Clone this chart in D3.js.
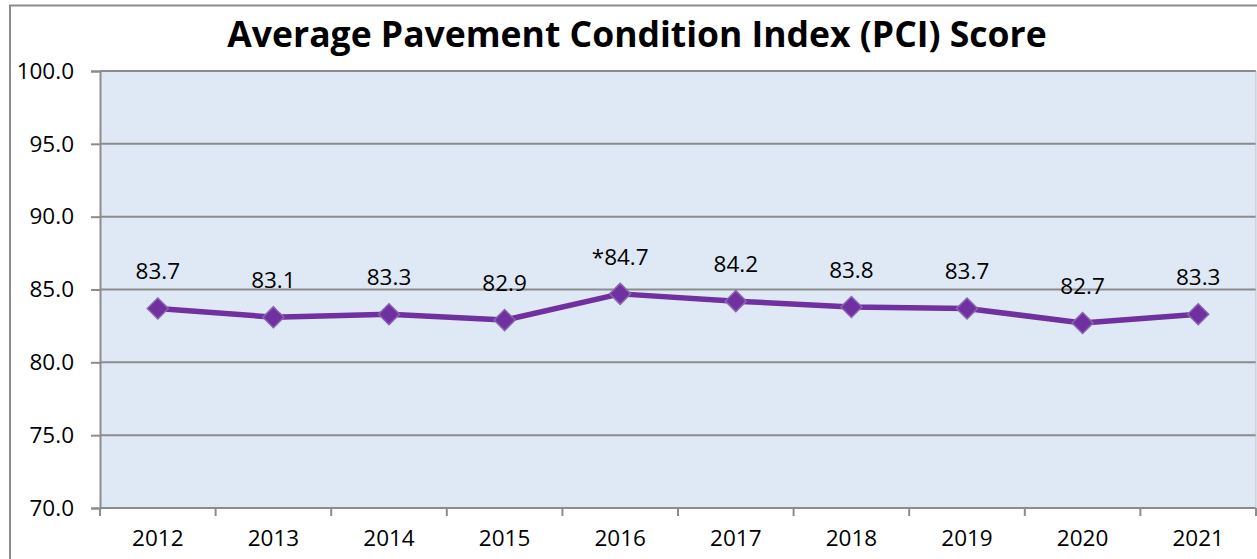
<!DOCTYPE html>
<html>
<head>
<meta charset="utf-8">
<script src="https://cdn.jsdelivr.net/npm/d3@7"></script>
<style>
  html, body { margin: 0; padding: 0; background: #fff; }
  svg { display: block; }
</style>
</head>
<body>
<svg id="chart" width="1257" height="559"></svg>
<script>
const years = ["2012","2013","2014","2015","2016","2017","2018","2019","2020","2021"];
const pci = [83.7, 83.1, 83.3, 82.9, 84.7, 84.2, 83.8, 83.7, 82.7, 83.3];
const pointLabels = ["83.7","83.1","83.3","82.9","*84.7","84.2","83.8","83.7","82.7","83.3"];
const yTicks = [70, 75, 80, 85, 90, 95, 100];
const titleText = "Average Pavement Condition Index (PCI) Score";

const svg = d3.select("#chart");
const m = { left: 100, right: 1256, top: 71, bottom: 508 };
const labelFont = "'Open Sans', sans-serif";
const labelSize = 22.5;

// outer chart border
svg.append("rect")
  .attr("x", 10).attr("y", 5.5)
  .attr("width", 1262).attr("height", 570)
  .attr("fill", "#fff").attr("stroke", "#8c8c8c").attr("stroke-width", 2);

// title
svg.append("text")
  .attr("x", 637).attr("y", 47)
  .attr("text-anchor", "middle")
  .attr("font-family", "'Open Sans', sans-serif")
  .attr("font-weight", "bold")
  .attr("font-size", 35.5)
  .attr("fill", "#000")
  .text(titleText);

const x = d3.scaleBand().domain(years).range([m.left, m.right]).padding(0);
const y = d3.scaleLinear().domain([70, 100]).range([m.bottom, m.top]);

// plot background
svg.append("rect")
  .attr("x", m.left).attr("y", m.top)
  .attr("width", m.right - m.left).attr("height", m.bottom - m.top)
  .attr("fill", "#dfe9f5");

// gridlines
svg.append("g").selectAll("line").data(yTicks).join("line")
  .attr("x1", m.left).attr("x2", m.right)
  .attr("y1", d => y(d)).attr("y2", d => y(d))
  .attr("stroke", "#8c8c8c").attr("stroke-width", 2);

// right edge of plot area
svg.append("line")
  .attr("x1", m.right).attr("x2", m.right)
  .attr("y1", m.top).attr("y2", m.bottom)
  .attr("stroke", "#b8bec8").attr("stroke-width", 1);

// Y axis
const yAxis = d3.axisLeft(y).tickValues(yTicks).tickFormat(d3.format(".1f")).tickSize(9).tickPadding(17);
const gy = svg.append("g").attr("transform", `translate(${m.left},0)`).call(yAxis);
gy.select(".domain").attr("stroke", "#8c8c8c").attr("stroke-width", 2);
gy.selectAll(".tick line").attr("stroke", "#8c8c8c").attr("stroke-width", 2);
gy.selectAll(".tick text").attr("font-family", labelFont).attr("font-size", labelSize).attr("fill", "#000");

// X axis: ticks at category boundaries
const xAxis = d3.axisBottom(x).tickSize(0).tickPadding(22);
const gx = svg.append("g").attr("transform", `translate(0,${m.bottom})`).call(xAxis);
gx.select(".domain").remove();
gx.selectAll(".tick text").attr("font-family", labelFont).attr("font-size", labelSize).attr("fill", "#000");
gx.selectAll(".bnd").data(years).join("line")
  .attr("class", "bnd")
  .attr("x1", d => x(d)).attr("x2", d => x(d))
  .attr("y1", 0).attr("y2", 8)
  .attr("stroke", "#8c8c8c").attr("stroke-width", 2);
gx.append("line")
  .attr("x1", m.right).attr("x2", m.right).attr("y1", 0).attr("y2", 8)
  .attr("stroke", "#8c8c8c").attr("stroke-width", 2);

// line
const cx = d => x(d) + x.bandwidth() / 2;
const line = d3.line().x((d, i) => cx(years[i])).y(d => y(d));
svg.append("path")
  .datum(pci)
  .attr("d", line)
  .attr("fill", "none")
  .attr("stroke", "#7030a0")
  .attr("stroke-width", 5.5)
  .attr("stroke-linejoin", "round");

// markers
svg.append("g").selectAll("path").data(pci).join("path")
  .attr("transform", (d, i) => `translate(${cx(years[i])},${y(d)})`)
  .attr("d", "M0,-10.5L10.5,0L0,10.5L-10.5,0Z")
  .attr("fill", "#7030a0")
  .attr("stroke", "#8a64b0")
  .attr("stroke-width", 1.5);

// data labels
svg.append("g").selectAll("text").data(pci).join("text")
  .attr("x", (d, i) => cx(years[i]))
  .attr("y", d => y(d) - 29)
  .attr("text-anchor", "middle")
  .attr("font-family", labelFont)
  .attr("font-size", labelSize)
  .attr("fill", "#000")
  .text((d, i) => pointLabels[i]);
</script>
</body>
</html>
